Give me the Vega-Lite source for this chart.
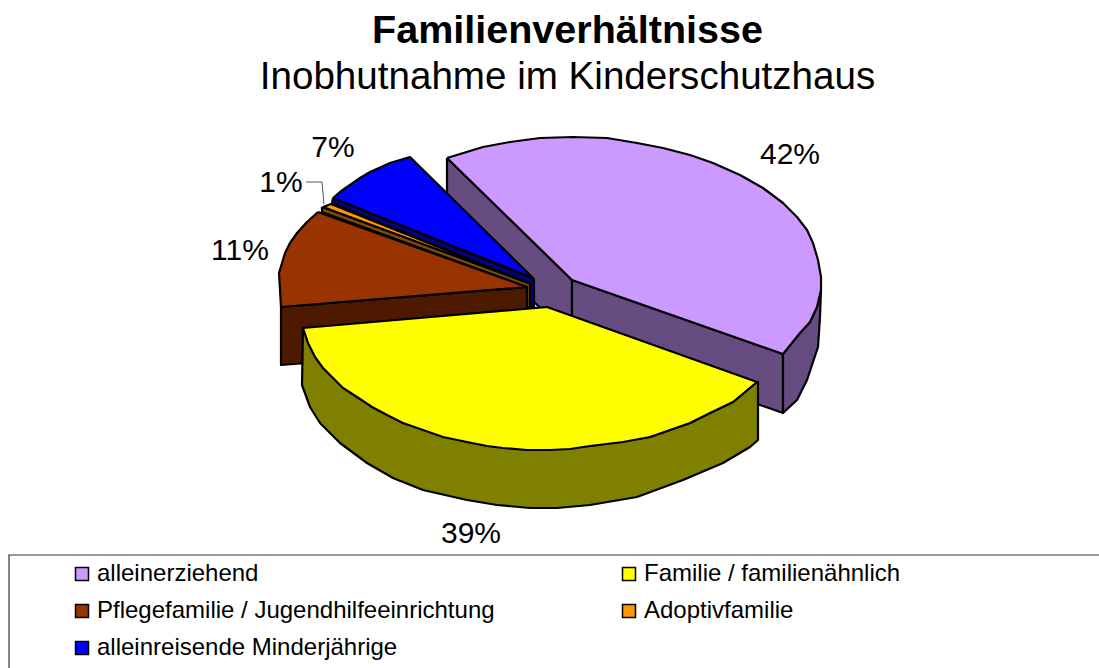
{"$schema":"https://vega.github.io/schema/vega-lite/v6.json","width":1099,"height":568,"padding":{"left":0,"top":100,"right":0,"bottom":0},"autosize":{"type":"none"},"background":"white",
"title":{"text":"Familienverhältnisse","subtitle":"Inobhutnahme im Kinderschutzhaus","anchor":"middle","dx":18,"offset":2,"font":"Liberation Sans","fontSize":39.5,"fontWeight":"bold","color":"black","subtitleFont":"Liberation Sans","subtitleFontSize":38.6,"subtitleColor":"black","subtitlePadding":8},
"config":{"view":{"stroke":null}},
"datasets":{
"seiten":[
{"kategorie":"alleinerziehend","flaeche":"s1","nr":1,"x":447,"y":158},{"kategorie":"alleinerziehend","flaeche":"s1","nr":2,"x":572,"y":280},{"kategorie":"alleinerziehend","flaeche":"s1","nr":3,"x":572,"y":339},{"kategorie":"alleinerziehend","flaeche":"s1","nr":4,"x":447,"y":217},{"kategorie":"alleinerziehend","flaeche":"s1","nr":5,"x":447,"y":158},
{"kategorie":"alleinerziehend","flaeche":"s2","nr":1,"x":572,"y":280},{"kategorie":"alleinerziehend","flaeche":"s2","nr":2,"x":783,"y":354},{"kategorie":"alleinerziehend","flaeche":"s2","nr":3,"x":783,"y":413},{"kategorie":"alleinerziehend","flaeche":"s2","nr":4,"x":572,"y":339},{"kategorie":"alleinerziehend","flaeche":"s2","nr":5,"x":572,"y":280},
{"kategorie":"alleinerziehend","flaeche":"s3","nr":1,"x":783,"y":354},{"kategorie":"alleinerziehend","flaeche":"s3","nr":2,"x":800,"y":333},{"kategorie":"alleinerziehend","flaeche":"s3","nr":3,"x":810,"y":322},{"kategorie":"alleinerziehend","flaeche":"s3","nr":4,"x":817,"y":307},{"kategorie":"alleinerziehend","flaeche":"s3","nr":5,"x":821,"y":290},{"kategorie":"alleinerziehend","flaeche":"s3","nr":6,"x":820,"y":317},{"kategorie":"alleinerziehend","flaeche":"s3","nr":7,"x":818,"y":347},{"kategorie":"alleinerziehend","flaeche":"s3","nr":8,"x":807,"y":380},{"kategorie":"alleinerziehend","flaeche":"s3","nr":9,"x":797,"y":400},{"kategorie":"alleinerziehend","flaeche":"s3","nr":10,"x":783,"y":413},{"kategorie":"alleinerziehend","flaeche":"s3","nr":11,"x":783,"y":354},
{"kategorie":"alleinreisende Minderjährige","flaeche":"s4","nr":1,"x":333,"y":198},{"kategorie":"alleinreisende Minderjährige","flaeche":"s4","nr":2,"x":534,"y":279},{"kategorie":"alleinreisende Minderjährige","flaeche":"s4","nr":3,"x":534,"y":307},{"kategorie":"alleinreisende Minderjährige","flaeche":"s4","nr":4,"x":530,"y":307},{"kategorie":"alleinreisende Minderjährige","flaeche":"s4","nr":5,"x":530,"y":284},{"kategorie":"alleinreisende Minderjährige","flaeche":"s4","nr":6,"x":332,"y":203},{"kategorie":"alleinreisende Minderjährige","flaeche":"s4","nr":7,"x":333,"y":198},
{"kategorie":"Adoptivfamilie","flaeche":"s5","nr":1,"x":322,"y":207},{"kategorie":"Adoptivfamilie","flaeche":"s5","nr":2,"x":530,"y":283},{"kategorie":"Adoptivfamilie","flaeche":"s5","nr":3,"x":530,"y":307},{"kategorie":"Adoptivfamilie","flaeche":"s5","nr":4,"x":527,"y":307},{"kategorie":"Adoptivfamilie","flaeche":"s5","nr":5,"x":527,"y":287},{"kategorie":"Adoptivfamilie","flaeche":"s5","nr":6,"x":322,"y":212},{"kategorie":"Adoptivfamilie","flaeche":"s5","nr":7,"x":322,"y":207},
{"kategorie":"Pflegefamilie / Jugendhilfeeinrichtung","flaeche":"s6","nr":1,"x":281,"y":307},{"kategorie":"Pflegefamilie / Jugendhilfeeinrichtung","flaeche":"s6","nr":2,"x":527,"y":287},{"kategorie":"Pflegefamilie / Jugendhilfeeinrichtung","flaeche":"s6","nr":3,"x":527,"y":346},{"kategorie":"Pflegefamilie / Jugendhilfeeinrichtung","flaeche":"s6","nr":4,"x":281,"y":365},{"kategorie":"Pflegefamilie / Jugendhilfeeinrichtung","flaeche":"s6","nr":5,"x":281,"y":307},
{"kategorie":"Familie / familienähnlich","flaeche":"s7","nr":1,"x":757,"y":382},{"kategorie":"Familie / familienähnlich","flaeche":"s7","nr":2,"x":733,"y":402},{"kategorie":"Familie / familienähnlich","flaeche":"s7","nr":3,"x":710,"y":413},{"kategorie":"Familie / familienähnlich","flaeche":"s7","nr":4,"x":690,"y":423},{"kategorie":"Familie / familienähnlich","flaeche":"s7","nr":5,"x":650,"y":437},{"kategorie":"Familie / familienähnlich","flaeche":"s7","nr":6,"x":590,"y":446},{"kategorie":"Familie / familienähnlich","flaeche":"s7","nr":7,"x":527,"y":450},{"kategorie":"Familie / familienähnlich","flaeche":"s7","nr":8,"x":467,"y":442},{"kategorie":"Familie / familienähnlich","flaeche":"s7","nr":9,"x":403,"y":423},{"kategorie":"Familie / familienähnlich","flaeche":"s7","nr":10,"x":357,"y":397},{"kategorie":"Familie / familienähnlich","flaeche":"s7","nr":11,"x":323,"y":368},{"kategorie":"Familie / familienähnlich","flaeche":"s7","nr":12,"x":303,"y":328},{"kategorie":"Familie / familienähnlich","flaeche":"s7","nr":13,"x":302,"y":385},{"kategorie":"Familie / familienähnlich","flaeche":"s7","nr":14,"x":310,"y":407},{"kategorie":"Familie / familienähnlich","flaeche":"s7","nr":15,"x":320,"y":423},{"kategorie":"Familie / familienähnlich","flaeche":"s7","nr":16,"x":340,"y":443},{"kategorie":"Familie / familienähnlich","flaeche":"s7","nr":17,"x":367,"y":463},{"kategorie":"Familie / familienähnlich","flaeche":"s7","nr":18,"x":393,"y":478},{"kategorie":"Familie / familienähnlich","flaeche":"s7","nr":19,"x":423,"y":490},{"kategorie":"Familie / familienähnlich","flaeche":"s7","nr":20,"x":467,"y":500},{"kategorie":"Familie / familienähnlich","flaeche":"s7","nr":21,"x":497,"y":505},{"kategorie":"Familie / familienähnlich","flaeche":"s7","nr":22,"x":530,"y":508},{"kategorie":"Familie / familienähnlich","flaeche":"s7","nr":23,"x":557,"y":508},{"kategorie":"Familie / familienähnlich","flaeche":"s7","nr":24,"x":590,"y":505},{"kategorie":"Familie / familienähnlich","flaeche":"s7","nr":25,"x":637,"y":497},{"kategorie":"Familie / familienähnlich","flaeche":"s7","nr":26,"x":683,"y":480},{"kategorie":"Familie / familienähnlich","flaeche":"s7","nr":27,"x":723,"y":463},{"kategorie":"Familie / familienähnlich","flaeche":"s7","nr":28,"x":750,"y":447},{"kategorie":"Familie / familienähnlich","flaeche":"s7","nr":29,"x":758,"y":440},{"kategorie":"Familie / familienähnlich","flaeche":"s7","nr":30,"x":758,"y":382},{"kategorie":"Familie / familienähnlich","flaeche":"s7","nr":31,"x":757,"y":382}
],
"oben":[
{"kategorie":"alleinerziehend","flaeche":"t1","nr":1,"x":447,"y":158},{"kategorie":"alleinerziehend","flaeche":"t1","nr":2,"x":483,"y":147},{"kategorie":"alleinerziehend","flaeche":"t1","nr":3,"x":510,"y":142},{"kategorie":"alleinerziehend","flaeche":"t1","nr":4,"x":540,"y":138},{"kategorie":"alleinerziehend","flaeche":"t1","nr":5,"x":573,"y":137},{"kategorie":"alleinerziehend","flaeche":"t1","nr":6,"x":607,"y":138},{"kategorie":"alleinerziehend","flaeche":"t1","nr":7,"x":637,"y":143},{"kategorie":"alleinerziehend","flaeche":"t1","nr":8,"x":663,"y":148},{"kategorie":"alleinerziehend","flaeche":"t1","nr":9,"x":690,"y":155},{"kategorie":"alleinerziehend","flaeche":"t1","nr":10,"x":713,"y":163},{"kategorie":"alleinerziehend","flaeche":"t1","nr":11,"x":740,"y":175},{"kategorie":"alleinerziehend","flaeche":"t1","nr":12,"x":763,"y":188},{"kategorie":"alleinerziehend","flaeche":"t1","nr":13,"x":783,"y":203},{"kategorie":"alleinerziehend","flaeche":"t1","nr":14,"x":797,"y":217},{"kategorie":"alleinerziehend","flaeche":"t1","nr":15,"x":807,"y":230},{"kategorie":"alleinerziehend","flaeche":"t1","nr":16,"x":813,"y":243},{"kategorie":"alleinerziehend","flaeche":"t1","nr":17,"x":818,"y":260},{"kategorie":"alleinerziehend","flaeche":"t1","nr":18,"x":821,"y":277},{"kategorie":"alleinerziehend","flaeche":"t1","nr":19,"x":821,"y":290},{"kategorie":"alleinerziehend","flaeche":"t1","nr":20,"x":817,"y":307},{"kategorie":"alleinerziehend","flaeche":"t1","nr":21,"x":810,"y":322},{"kategorie":"alleinerziehend","flaeche":"t1","nr":22,"x":800,"y":333},{"kategorie":"alleinerziehend","flaeche":"t1","nr":23,"x":783,"y":354},{"kategorie":"alleinerziehend","flaeche":"t1","nr":24,"x":572,"y":280},{"kategorie":"alleinerziehend","flaeche":"t1","nr":25,"x":447,"y":158},
{"kategorie":"alleinreisende Minderjährige","flaeche":"t2","nr":1,"x":333,"y":198},{"kategorie":"alleinreisende Minderjährige","flaeche":"t2","nr":2,"x":340,"y":192},{"kategorie":"alleinreisende Minderjährige","flaeche":"t2","nr":3,"x":347,"y":187},{"kategorie":"alleinreisende Minderjährige","flaeche":"t2","nr":4,"x":360,"y":178},{"kategorie":"alleinreisende Minderjährige","flaeche":"t2","nr":5,"x":370,"y":172},{"kategorie":"alleinreisende Minderjährige","flaeche":"t2","nr":6,"x":390,"y":163},{"kategorie":"alleinreisende Minderjährige","flaeche":"t2","nr":7,"x":410,"y":157},{"kategorie":"alleinreisende Minderjährige","flaeche":"t2","nr":8,"x":533,"y":278},{"kategorie":"alleinreisende Minderjährige","flaeche":"t2","nr":9,"x":333,"y":198},
{"kategorie":"Adoptivfamilie","flaeche":"t3","nr":1,"x":323,"y":207},{"kategorie":"Adoptivfamilie","flaeche":"t3","nr":2,"x":331,"y":204},{"kategorie":"Adoptivfamilie","flaeche":"t3","nr":3,"x":528,"y":283},{"kategorie":"Adoptivfamilie","flaeche":"t3","nr":4,"x":323,"y":207},
{"kategorie":"Pflegefamilie / Jugendhilfeeinrichtung","flaeche":"t4","nr":1,"x":318,"y":212},{"kategorie":"Pflegefamilie / Jugendhilfeeinrichtung","flaeche":"t4","nr":2,"x":307,"y":222},{"kategorie":"Pflegefamilie / Jugendhilfeeinrichtung","flaeche":"t4","nr":3,"x":297,"y":233},{"kategorie":"Pflegefamilie / Jugendhilfeeinrichtung","flaeche":"t4","nr":4,"x":290,"y":243},{"kategorie":"Pflegefamilie / Jugendhilfeeinrichtung","flaeche":"t4","nr":5,"x":285,"y":253},{"kategorie":"Pflegefamilie / Jugendhilfeeinrichtung","flaeche":"t4","nr":6,"x":282,"y":263},{"kategorie":"Pflegefamilie / Jugendhilfeeinrichtung","flaeche":"t4","nr":7,"x":279,"y":273},{"kategorie":"Pflegefamilie / Jugendhilfeeinrichtung","flaeche":"t4","nr":8,"x":281,"y":307},{"kategorie":"Pflegefamilie / Jugendhilfeeinrichtung","flaeche":"t4","nr":9,"x":527,"y":287},{"kategorie":"Pflegefamilie / Jugendhilfeeinrichtung","flaeche":"t4","nr":10,"x":318,"y":212},
{"kategorie":"Familie / familienähnlich","flaeche":"t5","nr":1,"x":547,"y":307},{"kategorie":"Familie / familienähnlich","flaeche":"t5","nr":2,"x":757,"y":382},{"kategorie":"Familie / familienähnlich","flaeche":"t5","nr":3,"x":733,"y":402},{"kategorie":"Familie / familienähnlich","flaeche":"t5","nr":4,"x":710,"y":413},{"kategorie":"Familie / familienähnlich","flaeche":"t5","nr":5,"x":690,"y":423},{"kategorie":"Familie / familienähnlich","flaeche":"t5","nr":6,"x":650,"y":437},{"kategorie":"Familie / familienähnlich","flaeche":"t5","nr":7,"x":623,"y":442},{"kategorie":"Familie / familienähnlich","flaeche":"t5","nr":8,"x":590,"y":446},{"kategorie":"Familie / familienähnlich","flaeche":"t5","nr":9,"x":570,"y":449},{"kategorie":"Familie / familienähnlich","flaeche":"t5","nr":10,"x":550,"y":450},{"kategorie":"Familie / familienähnlich","flaeche":"t5","nr":11,"x":527,"y":450},{"kategorie":"Familie / familienähnlich","flaeche":"t5","nr":12,"x":503,"y":448},{"kategorie":"Familie / familienähnlich","flaeche":"t5","nr":13,"x":487,"y":446},{"kategorie":"Familie / familienähnlich","flaeche":"t5","nr":14,"x":467,"y":442},{"kategorie":"Familie / familienähnlich","flaeche":"t5","nr":15,"x":443,"y":437},{"kategorie":"Familie / familienähnlich","flaeche":"t5","nr":16,"x":423,"y":430},{"kategorie":"Familie / familienähnlich","flaeche":"t5","nr":17,"x":403,"y":423},{"kategorie":"Familie / familienähnlich","flaeche":"t5","nr":18,"x":387,"y":415},{"kategorie":"Familie / familienähnlich","flaeche":"t5","nr":19,"x":372,"y":407},{"kategorie":"Familie / familienähnlich","flaeche":"t5","nr":20,"x":357,"y":397},{"kategorie":"Familie / familienähnlich","flaeche":"t5","nr":21,"x":343,"y":388},{"kategorie":"Familie / familienähnlich","flaeche":"t5","nr":22,"x":332,"y":377},{"kategorie":"Familie / familienähnlich","flaeche":"t5","nr":23,"x":323,"y":368},{"kategorie":"Familie / familienähnlich","flaeche":"t5","nr":24,"x":315,"y":357},{"kategorie":"Familie / familienähnlich","flaeche":"t5","nr":25,"x":308,"y":343},{"kategorie":"Familie / familienähnlich","flaeche":"t5","nr":26,"x":303,"y":328},{"kategorie":"Familie / familienähnlich","flaeche":"t5","nr":27,"x":547,"y":307}
],
"anteile":[
{"kategorie":"alleinerziehend","anteil":0.42,"x":790,"y":155},
{"kategorie":"Familie / familienähnlich","anteil":0.39,"x":471,"y":534},
{"kategorie":"Pflegefamilie / Jugendhilfeeinrichtung","anteil":0.11,"x":240,"y":251},
{"kategorie":"Adoptivfamilie","anteil":0.01,"x":281,"y":183},
{"kategorie":"alleinreisende Minderjährige","anteil":0.07,"x":333,"y":148}
],
"leitlinie":[{"nr":1,"x":306,"y":182},{"nr":2,"x":322,"y":182},{"nr":3,"x":324,"y":204}],
"rahmen":[{"nr":1,"x":9,"y":668},{"nr":2,"x":9,"y":555},{"nr":3,"x":1099,"y":555}]
},
"encoding":{"x":{"field":"x","type":"quantitative","axis":null,"scale":{"domain":[0,1099],"nice":false,"zero":false}},"y":{"field":"y","type":"quantitative","axis":null,"scale":{"domain":[100,668],"reverse":true,"nice":false,"zero":false}}},
"layer":[
{"data":{"name":"rahmen"},"mark":{"type":"line","color":"#333333","strokeWidth":1.2},"encoding":{"order":{"field":"nr"}}},
{"data":{"name":"leitlinie"},"mark":{"type":"line","color":"#555555","strokeWidth":1},"encoding":{"order":{"field":"nr"}}},
{"data":{"name":"seiten"},"mark":{"type":"line","filled":true,"stroke":"black","strokeWidth":2.2,"strokeJoin":"round"},"encoding":{"fill":{"field":"kategorie","type":"nominal","legend":null,"scale":{"domain":["alleinerziehend","Pflegefamilie / Jugendhilfeeinrichtung","alleinreisende Minderjährige","Familie / familienähnlich","Adoptivfamilie"],"range":["#664C80","#4D1A00","#000080","#808000","#804C00"]}},"detail":{"field":"flaeche"},"order":{"field":"nr"}}},
{"data":{"name":"oben"},"mark":{"type":"line","filled":true,"stroke":"black","strokeWidth":2.2,"strokeJoin":"round"},"encoding":{"fill":{"field":"kategorie","type":"nominal","title":null,"scale":{"domain":["alleinerziehend","Pflegefamilie / Jugendhilfeeinrichtung","alleinreisende Minderjährige","Familie / familienähnlich","Adoptivfamilie"],"range":["#CC99FF","#993300","#0000FF","#FFFF00","#FF9900"]},"legend":{"orient":"none","legendX":70,"legendY":462,"columns":2,"columnPadding":122,"rowPadding":13,"symbolType":"square","symbolSize":169,"symbolStrokeColor":"black","symbolStrokeWidth":1.5,"labelFont":"Liberation Sans","labelFontSize":24,"labelColor":"black","labelLimit":500,"labelOffset":3}},"detail":{"field":"flaeche"},"order":{"field":"nr"}}},
{"data":{"name":"anteile"},"mark":{"type":"text","font":"Liberation Sans","fontSize":30,"color":"black","align":"center","baseline":"middle"},"encoding":{"text":{"field":"anteil","type":"quantitative","format":".0%"}}}
],
"resolve":{"scale":{"fill":"independent"}}}
